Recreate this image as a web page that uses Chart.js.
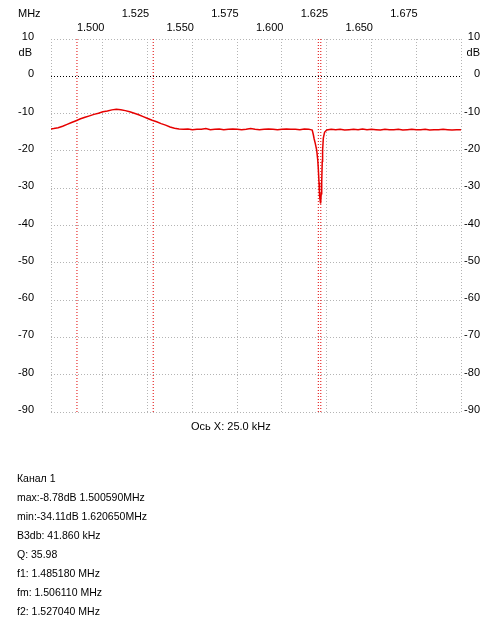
<!DOCTYPE html>
<html><head><meta charset="utf-8">
<script src="https://cdn.jsdelivr.net/npm/chart.js@4/dist/chart.umd.min.js"></script>
<style>html,body{margin:0;padding:0;background:#fff}#wrap{position:relative;width:502px;height:618px}</style>
</head><body><div id="wrap"><canvas id="c"></canvas></div>
<script>
// ---- data ----
const freqMHz = [
  1.4710,1.4725,1.4750,1.4775,1.4800,1.4825,1.4850,1.4875,1.4900,1.4925,1.4950,1.4975,1.5000,1.5025,1.5050,1.5075,
  1.5100,1.5125,1.5150,1.5175,1.5200,1.5225,1.5250,1.5275,1.5300,1.5325,1.5350,1.5375,1.5400,1.5425,1.5450,
  1.5475,1.5500,1.5525,1.5550,1.5575,1.5600,1.5625,1.5650,1.5675,1.5700,1.5725,1.5750,1.5775,1.5800,1.5825,1.5850,
  1.5875,1.5900,1.5925,1.5950,1.5975,1.6000,1.6025,1.6050,1.6075,1.6100,1.6125,1.6150,
  1.6160,1.6169,1.6175,1.6180,1.6186,1.6194,1.6200,1.6203,1.6207,1.6210,1.6214,1.6216,1.6219,1.6222,1.6225,1.6227,
  1.6231,1.6238,1.6250,
  1.6275,1.6300,1.6325,1.6350,1.6375,1.6400,1.6425,1.6450,1.6475,1.6500,1.6525,1.6550,1.6575,1.6600,1.6625,1.6650,
  1.6675,1.6700,1.6725,1.6750,1.6775,1.6800,1.6825,1.6850,1.6875,1.6900,1.6925,1.6950,1.6975,1.7000
];
const levelDb = [
  -14.1,-14.0,-13.8,-13.4,-12.9,-12.4,-11.9,-11.4,-11.0,-10.6,-10.2,-9.9,-9.5,-9.3,-9.0,-8.85,
  -8.95,-9.2,-9.5,-9.9,-10.3,-10.8,-11.3,-11.8,-12.2,-12.7,-13.1,-13.6,-13.9,-14.1,-14.2,
  -14.1,-14.3,-14.2,-14.2,-14.0,-14.3,-14.2,-14.1,-14.3,-14.2,-14.1,-14.2,-14.3,-14.2,-14.0,-14.2,
  -14.3,-14.2,-14.1,-14.2,-14.3,-14.2,-14.1,-14.2,-14.2,-14.3,-14.1,-14.2,
  -14.3,-14.4,-15.6,-16.8,-18.0,-19.8,-22.5,-24.7,-28.5,-32.0,-33.6,-34.1,-31.5,-28.5,-22.8,-19.8,
  -16.6,-15.0,-14.4,
  -14.2,-14.3,-14.2,-14.4,-14.3,-14.2,-14.3,-14.1,-14.3,-14.2,-14.3,-14.4,-14.2,-14.3,-14.3,-14.2,
  -14.4,-14.3,-14.2,-14.3,-14.3,-14.2,-14.4,-14.3,-14.3,-14.2,-14.3,-14.4,-14.3,-14.3
];
const markerMHz = [1.4855, 1.5281, 1.6203, 1.6217];
const xRangeMHz = [1.471, 1.700];
const xTickMHz = [1.500, 1.525, 1.550, 1.575, 1.600, 1.625, 1.650, 1.675, 1.700];
const xTickLabels = ['1.500','1.525','1.550','1.575','1.600','1.625','1.650','1.675'];
const yRangeDb = [-90, 10];
const yTickDb = [10, 0, -10, -20, -30, -40, -50, -60, -70, -80, -90];
const xUnit = 'MHz';
const yUnit = 'dB';
const xAxisNote = 'Ось X: 25.0 kHz';
const infoLines = [
  'Канал 1',
  'max:-8.78dB 1.500590MHz',
  'min:-34.11dB 1.620650MHz',
  'B3db: 41.860 kHz',
  'Q: 35.98',
  'f1: 1.485180 MHz',
  'fm: 1.506110 MHz',
  'f2: 1.527040 MHz'
];

// ---- chart ----
const AXIS_FONT = '11px "Liberation Sans", Arial, sans-serif';
const INFO_FONT = '10.5px "Liberation Sans", Arial, sans-serif';
const traceData = freqMHz.map((f, i) => ({x: f, y: levelDb[i]}));
const markerSets = markerMHz.map(m => ({
  data: [{x: m, y: yRangeDb[0]}, {x: m, y: yRangeDb[1]}],
  borderColor: '#e00000', borderWidth: 1, borderDash: [1, 2],
  pointRadius: 0, fill: false, order: 2
}));

const labelsPlugin = {
  id: 'labels',
  afterDraw(chart) {
    const ctx = chart.ctx, xs = chart.scales.x, ys = chart.scales.y;
    ctx.save();
    ctx.font = AXIS_FONT;
    ctx.fillStyle = '#000';
    ctx.textBaseline = 'middle';
    ctx.textAlign = 'right';
    xTickLabels.forEach((t, i) => {
      const px = xs.getPixelForValue(parseFloat(t)) + 1.5;
      ctx.fillText(t, px, i % 2 === 0 ? 28 : 14);
    });
    ctx.textAlign = 'left';
    ctx.fillText(xUnit, 18, 14);
    ctx.textAlign = 'right';
    yTickDb.forEach(v => {
      const py = ys.getPixelForValue(v) - 2;
      ctx.fillText(String(v), 34, py);
      ctx.fillText(String(v), 480, py);
    });
    ctx.fillText(yUnit, 32, 53);
    ctx.fillText(yUnit, 480, 53);
    ctx.textAlign = 'left';
    ctx.fillText(xAxisNote, 191, 427);
    ctx.font = INFO_FONT;
    infoLines.forEach((t, i) => ctx.fillText(t, 17, 479 + 19 * i));
    ctx.restore();
  }
};

new Chart(document.getElementById('c'), {
  type: 'line',
  data: {
    datasets: [{
      data: traceData,
      borderColor: '#e60000', borderWidth: 1.5,
      pointRadius: 0, fill: false, tension: 0, order: 1
    }, ...markerSets]
  },
  options: {
    responsive: true, maintainAspectRatio: false, animation: false,
    layout: {padding: {left: 51, right: 41, top: 39, bottom: 206}},
    plugins: {legend: {display: false}, tooltip: {enabled: false}},
    scales: {
      x: {
        type: 'linear', min: xRangeMHz[0], max: xRangeMHz[1],
        afterBuildTicks: s => { s.ticks = [xRangeMHz[0], ...xTickMHz].map(v => ({value: v})); },
        ticks: {display: false},
        grid: {color: '#b4b4b4', lineWidth: 1, drawTicks: false},
        border: {display: false, dash: [1, 2]}
      },
      y: {
        type: 'linear', min: yRangeDb[0], max: yRangeDb[1],
        afterBuildTicks: s => { s.ticks = yTickDb.map(v => ({value: v})); },
        ticks: {display: false},
        grid: {color: c => c.tick && c.tick.value === 0 ? '#000' : '#b4b4b4', lineWidth: 1, drawTicks: false},
        border: {display: false, dash: [1, 2]}
      }
    }
  },
  plugins: [labelsPlugin]
});
</script></body></html>
